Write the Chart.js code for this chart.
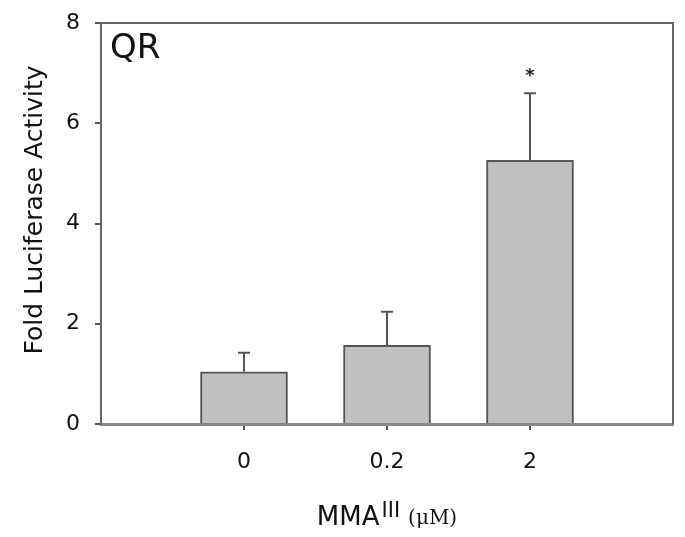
<!DOCTYPE html>
<html>
<head>
<meta charset="utf-8">
<script src="https://cdn.jsdelivr.net/npm/chart.js@4.4.1/dist/chart.umd.min.js"></script>
<style>
  html, body { margin: 0; padding: 0; background: #fff; }
  #wrap { width: 685px; height: 537px; }
</style>
</head>
<body>
<div id="wrap"><canvas id="qrChart"></canvas></div>
<script>
// doses (uM), padded with empty slots so the bars sit like the original
var doses = ['', '0', '0.2', '2', ''];
var foldActivity = [null, 1.04, 1.57, 5.26, null];
var errorUp = [null, 0.38, 0.67, 1.34, null];
var significant = [false, false, false, true, false];
var yTicks = [0, 2, 4, 6, 8];

var axisGrey = '#555';

// frame, error bars, asterisk, panel label and axis titles
var extras = {
    id: 'extras',
    afterDatasetsDraw: function (chart) {
        var c = chart.ctx, a = chart.chartArea;
        var xs = chart.scales.x, ys = chart.scales.y;
        c.save();

        // top and right frame
        c.strokeStyle = '#666';
        c.lineWidth = 2;
        c.beginPath();
        c.moveTo(a.left, a.top);
        c.lineTo(a.right, a.top);
        c.lineTo(a.right, a.bottom);
        c.stroke();

        // error bars (upper only)
        c.strokeStyle = axisGrey;
        c.lineWidth = 2;
        for (var i = 0; i < foldActivity.length; i++) {
            if (foldActivity[i] == null) continue;
            var x = xs.getPixelForValue(i);
            var y0 = ys.getPixelForValue(foldActivity[i]);
            var y1 = ys.getPixelForValue(foldActivity[i] + errorUp[i]);
            c.beginPath();
            c.moveTo(x, y0);
            c.lineTo(x, y1);
            c.moveTo(x - 6, y1);
            c.lineTo(x + 6, y1);
            c.stroke();
            if (significant[i]) {
                c.fillStyle = '#222';
                c.font = 'bold 18px "DejaVu Sans"';
                c.textAlign = 'center';
                c.textBaseline = 'alphabetic';
                c.fillText('*', x, y1 - 12);
            }
        }

        // panel label
        c.fillStyle = '#111';
        c.font = '34px "DejaVu Sans"';
        c.textAlign = 'left';
        c.textBaseline = 'alphabetic';
        c.fillText('QR', 110, 58);

        // y title
        c.save();
        c.translate(42, 210);
        c.rotate(-Math.PI / 2);
        c.font = '25px "DejaVu Sans"';
        c.textAlign = 'center';
        c.fillText('Fold Luciferase Activity', 0, 0);
        c.restore();

        // x title: MMA^III (uM)
        var f1 = '26px "DejaVu Sans"', f2 = '21px "DejaVu Sans"', f3 = '20px "DejaVu Serif"';
        c.font = f1; var w1 = c.measureText('MMA').width;
        c.font = f2; var w2 = c.measureText('III').width;
        c.font = f3; var w3 = c.measureText('(\u03bcM)').width;
        var gap = 8;
        var total = w1 + 2 + w2 + gap + w3;
        var sx = (a.left + a.right) / 2 - total / 2;
        c.textAlign = 'left';
        c.font = f1; c.fillText('MMA', sx, 525);
        c.font = f2; c.fillText('III', sx + w1 + 2, 517);
        c.font = f3; c.fillText('(\u03bcM)', sx + w1 + 2 + w2 + gap, 524);

        c.restore();
    }
};

var ctx = document.getElementById('qrChart').getContext('2d');
var qrChart = new Chart(ctx, {
    type: 'bar',
    data: {
        labels: doses,
        datasets: [{
            data: foldActivity,
            backgroundColor: '#c0c0c0',
            borderColor: axisGrey,
            borderWidth: 2,
            borderSkipped: 'bottom',
            barThickness: 87
        }]
    },
    options: {
        responsive: true,
        maintainAspectRatio: false,
        animation: false,
        layout: { padding: { top: 23, right: 12, left: 0, bottom: 0 } },
        plugins: {
            legend: { display: false },
            tooltip: { enabled: false }
        },
        scales: {
            x: {
                offset: false,
                grid: {
                    offset: false,
                    drawOnChartArea: false,
                    tickLength: 6,
                    lineWidth: 2,
                    color: function (c) {
                        return (c.index === 0 || c.index === doses.length - 1) ? 'rgba(0,0,0,0)' : axisGrey;
                    }
                },
                border: { display: true, color: '#888', width: 3 },
                ticks: {
                    color: '#111',
                    padding: 19,
                    maxRotation: 0,
                    font: { family: 'DejaVu Sans', size: 22 }
                },
                afterFit: function (s) {
                    s.height = 113;
                    s.paddingLeft = 0; s.paddingRight = 0;
                }
            },
            y: {
                min: 0,
                max: 8,
                afterBuildTicks: function (s) {
                    s.ticks = yTicks.map(function (v) { return { value: v }; });
                },
                grid: {
                    drawOnChartArea: false,
                    tickLength: 6,
                    lineWidth: 2,
                    color: axisGrey
                },
                border: { display: true, color: '#666', width: 2 },
                ticks: {
                    color: '#111',
                    padding: 15,
                    font: { family: 'DejaVu Sans', size: 22 }
                },
                afterFit: function (s) {
                    s.width = 101;
                    s.paddingTop = 0; s.paddingBottom = 0;
                }
            }
        }
    },
    plugins: [extras]
});
</script>
</body>
</html>
